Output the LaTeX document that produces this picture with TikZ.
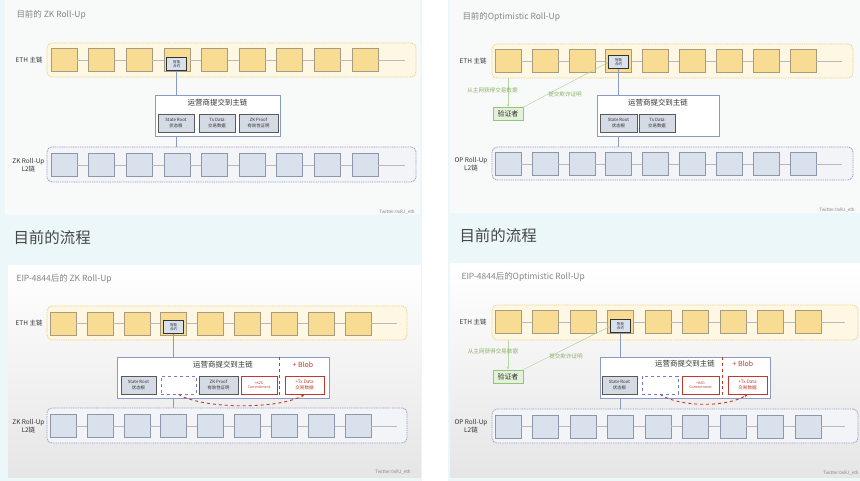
\documentclass[tikz,border=0pt]{standalone}
\usepackage{fontspec}
\setmainfont{Noto Sans CJK SC}
\usetikzlibrary{arrows.meta}

\definecolor{bgcyan}{HTML}{EBF7F9}
\definecolor{slidebg}{HTML}{F8F9F9}
\definecolor{ethfill}{HTML}{F9DC93}
\definecolor{ethline}{HTML}{A89C80}
\definecolor{rowyel}{HTML}{FDF7E4}
\definecolor{ethdash}{HTML}{EFD27C}
\definecolor{l2fill}{HTML}{D9E1ED}
\definecolor{l2line}{HTML}{8E97A8}
\definecolor{rowblu}{HTML}{F2F4F8}
\definecolor{l2dash}{HTML}{8F9CC6}
\definecolor{opline}{HTML}{8A9BC6}
\definecolor{fldfill}{HTML}{D5DBE5}
\definecolor{blobred}{HTML}{C0392B}
\definecolor{vergreen}{HTML}{E4F1D9}
\definecolor{verline}{HTML}{93C47D}
\definecolor{notegreen}{HTML}{8DB26A}
\definecolor{txtgray}{HTML}{858585}
\definecolor{txtdark}{HTML}{333333}

\begin{document}
\begin{tikzpicture}[
  x=1bp, y=-1bp,
  ethblk/.style={
    draw=ethline, fill=ethfill, minimum width=26bp, minimum height=23bp,
    inner sep=0pt, line width=0.5pt
  },
  l2blk/.style={
    draw=l2line, fill=l2fill, minimum width=26bp, minimum height=23bp,
    inner sep=0pt, line width=0.5pt
  },
  ethrow/.style={
    draw=ethdash, fill=rowyel, dash pattern=on 1pt off 0.8pt,
    rounded corners=5bp, line width=0.8pt, inner sep=0pt
  },
  l2row/.style={
    draw=l2dash, fill=rowblu, dash pattern=on 1pt off 0.8pt,
    rounded corners=5bp, line width=0.8pt, inner sep=0pt
  },
  chain/.style={draw=gray!55, line width=0.5pt},
  link/.style={draw=opline, line width=0.9pt},
  contract/.style={
    draw=txtdark, fill=l2fill, line width=0.8pt, inner sep=0.5pt,
    minimum width=20bp, minimum height=13bp, align=center,
    font=\fontsize{3.6}{4}\selectfont, text=txtdark
  },
  opbox/.style={draw=opline, fill=white, line width=0.8pt, inner sep=0pt},
  optitle/.style={font=\fontsize{7.5}{8}\selectfont, text=txtdark},
  fld/.style={
    draw=gray!70!black, fill=fldfill, line width=0.6pt, inner sep=0pt,
    minimum height=18bp, align=center, font=\fontsize{4.4}{5.4}\selectfont,
    text=txtdark
  },
  redfld/.style={
    draw=blobred, fill=white, line width=0.8pt, inner sep=0pt,
    minimum height=18bp, align=center, text=blobred
  },
  emptyfld/.style={
    draw=opline!80!blue, dashed, line width=0.8pt, inner sep=0pt,
    minimum height=18bp
  },
  blobsep/.style={draw=blobred, dashed, line width=0.8pt},
  bloblbl/.style={font=\fontsize{7}{8}\selectfont, text=blobred},
  redarc/.style={draw=blobred, dashed, line width=0.9pt,
    -{Stealth[length=3.5bp,width=3bp]}},
  verif/.style={
    draw=verline, fill=vergreen, line width=0.8pt, inner sep=0pt,
    minimum width=30bp, minimum height=13bp,
    font=\fontsize{7}{8}\selectfont, text=txtdark
  },
  glink/.style={draw=verline!70, line width=0.5pt,
    -{Stealth[length=3bp,width=2.5bp]}},
  gnote/.style={font=\fontsize{5.6}{6}\selectfont, text=notegreen},
  chainlbl/.style={anchor=east, align=center,
    font=\fontsize{6.5}{8}\selectfont, text=txtdark},
  slidettl/.style={anchor=west, font=\fontsize{8.5}{9}\selectfont, text=txtgray},
  flowttl/.style={anchor=west, font=\fontsize{15.5}{16}\selectfont, text=txtdark!90},
  twit/.style={font=\fontsize{4.5}{5}\selectfont, text=txtgray}
]
\useasboundingbox (0,0) rectangle (860,481);
\clip (0,0) rectangle (860,481);

% Backgrounds
\fill[bgcyan] (0,0) rectangle (422,481);
\fill[bgcyan] (448,0) rectangle (860,481);
\fill[slidebg] (5,0) rectangle (420,215);
\fill[slidebg] (450,0) rectangle (860,213);
\shade[top color=white, bottom color=gray!20] (8,266) rectangle (421,477);
\shade[top color=white, bottom color=gray!20] (450,264) rectangle (860,477);

\node[flowttl] (Aflow) at (10,238) {目前的流程};
\node[flowttl] (Bflow) at (456,236) {目前的流程};

% ---------- 目前的 ZK Roll-Up ----------
\node[slidettl] (Attl) at (13,15) {目前的 ZK Roll-Up};
\node[ethrow, minimum width=369bp, minimum height=34bp] (Aeth) at (231.5,60) {};
\node[l2row, minimum width=369bp, minimum height=35bp] (Al2) at (231.5,164.5) {};
\foreach \i in {1,...,9} {
  \node[ethblk] (A\i) at ({64+(\i-1)*37.6},60) {};
  \node[l2blk] (AL\i) at ({64+(\i-1)*37.6},165) {};
}
\coordinate (Aend) at (405,60);
\coordinate (ALend) at (405,165);
\foreach \i [remember=\i as \p (initially 1)] in {2,...,9} {
  \draw[chain] (A\p) -- (A\i);
  \draw[chain] (AL\p) -- (AL\i);
}
\draw[chain] (A9) -- (Aend);
\draw[chain] (AL9) -- (ALend);
\node[chainlbl] (Aethl) at (46,60) {ETH 主链};
\node[chainlbl] (Al2l) at (48,165) {ZK Roll-Up\\L2链};
\node[contract, anchor=south] (Acon) at ([yshift=0.5bp]A4.south) {智能\\合约};

\node[opbox, minimum width=125bp, minimum height=41bp] (Aop) at (217.5,115.5) {};
\node[optitle] (Aopt) at (217.5,102.5) {运营商提交到主链};
\node[fld, minimum width=36bp] (Asr) at (176,123) {State Root\\状态根};
\node[fld, minimum width=36bp] (Atx) at (217,123) {Tx Data\\交易数据};
\node[fld, minimum width=39bp] (Azk) at (258.5,123) {ZK Proof\\有效性证明};
\draw[link] (Acon.south) -- (Acon.south |- Aop.north);
\draw[link] (Acon.south |- Aop.south) -- (Acon.south |- Al2.north);
\node[twit] (Atw) at (397,212) {Twitter:0xRJ\_eth};

% ---------- 目前的Optimistic Roll-Up ----------
\node[slidettl] (Bttl) at (459,17) {目前的Optimistic Roll-Up};
\node[ethrow, minimum width=361bp, minimum height=34bp] (Beth) at (672.5,61) {};
\node[l2row, minimum width=361bp, minimum height=33bp] (Bl2) at (672.5,163.5) {};
\foreach \i in {1,...,9} {
  \node[ethblk] (B\i) at ({508+(\i-1)*36.9},61) {};
  \node[l2blk] (BL\i) at ({508+(\i-1)*36.9},164) {};
}
\coordinate (Bend) at (842,61);
\coordinate (BLend) at (842,164);
\foreach \i [remember=\i as \p (initially 1)] in {2,...,9} {
  \draw[chain] (B\p) -- (B\i);
  \draw[chain] (BL\p) -- (BL\i);
}
\draw[chain] (B9) -- (Bend);
\draw[chain] (BL9) -- (BLend);
\node[chainlbl] (Bethl) at (490,61) {ETH 主链};
\node[chainlbl] (Bl2l) at (491,164) {OP Roll-Up\\L2链};
\node[contract, anchor=south] (Bcon) at ([yshift=3.5bp]B4.south) {智能\\合约};

\node[verif] (Bver) at (508,114) {验证者};
\draw[glink] (B1 |- Beth.south) -- (Bver.north);
\draw[glink] (Bver.north east) -- (Bcon.west);
\node[gnote] (Bn1) at (492.5,90) {从主网获得交易数据};
\node[gnote] (Bn2) at (565,94) {提交欺诈证明};

\node[opbox, minimum width=122bp, minimum height=41bp] (Bop) at (658,115.5) {};
\node[optitle] (Bopt) at (658,102.5) {运营商提交到主链};
\node[fld, minimum width=37bp] (Bsr) at (618.5,123) {State Root\\状态根};
\node[fld, minimum width=36bp] (Btx) at (657,123) {Tx Data\\交易数据};
\draw[link] (Bcon.south) -- (Bcon.south |- Bop.north);
\draw[link] (Bcon.south |- Bop.south) -- (Bcon.south |- Bl2.north);
\node[twit] (Btw) at (837,210) {Twitter:0xRJ\_eth};

% ---------- EIP-4844后的 ZK Roll-Up ----------
\node[slidettl] (Cttl) at (13,279) {EIP-4844后的 ZK Roll-Up};
\node[ethrow, minimum width=360bp, minimum height=34bp] (Ceth) at (227,323) {};
\node[l2row, minimum width=360bp, minimum height=35bp] (Cl2) at (227,425.5) {};
\foreach \i in {1,...,9} {
  \node[ethblk] (C\i) at ({63+(\i-1)*36.9},323.5) {};
  \node[l2blk] (CL\i) at ({63+(\i-1)*36.9},426) {};
}
\coordinate (Cend) at (397,323.5);
\coordinate (CLend) at (397,426);
\foreach \i [remember=\i as \p (initially 1)] in {2,...,9} {
  \draw[chain] (C\p) -- (C\i);
  \draw[chain] (CL\p) -- (CL\i);
}
\draw[chain] (C9) -- (Cend);
\draw[chain] (CL9) -- (CLend);
\node[chainlbl] (Cethl) at (46,323.5) {ETH 主链};
\node[chainlbl] (Cl2l) at (48,426) {ZK Roll-Up\\L2链};
\node[contract, anchor=south] (Ccon) at ([yshift=1bp]C4.south) {智能\\合约};

\node[opbox, minimum width=212bp, minimum height=41bp] (Cop) at (223,377.5) {};
\node[optitle] (Copt) at (223,364.5) {运营商提交到主链};
\coordinate (Cbl) at (279,0);
\draw[blobsep] (Cop.north -| Cbl) -- (Cop.south -| Cbl);
\node[bloblbl] (Cblob) at (303,365) {+ Blob};
\node[fld, minimum width=35bp] (Csr) at (138.5,385) {State Root\\状态根};
\node[emptyfld, minimum width=35bp] (Cemp) at (178.5,385) {};
\node[fld, minimum width=39bp] (Czk) at (218.5,385) {ZK Proof\\有效性证明};
\node[redfld, minimum width=36bp, font=\fontsize{3.6}{4.4}\selectfont] (Ckzg) at (259,385) {+KZG\\Commitment};
\node[redfld, minimum width=39bp, font=\fontsize{4.6}{5.6}\selectfont] (Ctx) at (304.5,385) {+Tx Data\\交易数据};
\draw[redarc] (Cemp.south) .. controls +(25,15) and +(-25,15) .. (Ctx.south);
\draw[link] (Ccon.south) -- (Ccon.south |- Cop.north);
\draw[link] (Ccon.south |- Cop.south) -- (Ccon.south |- Cl2.north);
\node[twit] (Ctw) at (393,472) {Twitter:0xRJ\_eth};

% ---------- EIP-4844后的Optimistic Roll-Up ----------
\node[slidettl] (Dttl) at (458,277) {EIP-4844后的Optimistic Roll-Up};
\node[ethrow, minimum width=366bp, minimum height=35bp] (Deth) at (675,322.5) {};
\node[l2row, minimum width=366bp, minimum height=34bp] (Dl2) at (675,426) {};
\foreach \i in {1,...,9} {
  \node[ethblk] (D\i) at ({508+(\i-1)*37.5},322) {};
  \node[l2blk] (DL\i) at ({508+(\i-1)*37.5},426.5) {};
}
\coordinate (Dend) at (845,322);
\coordinate (DLend) at (845,426.5);
\foreach \i [remember=\i as \p (initially 1)] in {2,...,9} {
  \draw[chain] (D\p) -- (D\i);
  \draw[chain] (DL\p) -- (DL\i);
}
\draw[chain] (D9) -- (Dend);
\draw[chain] (DL9) -- (DLend);
\node[chainlbl] (Dethl) at (490,322) {ETH 主链};
\node[chainlbl] (Dl2l) at (491,426.5) {OP Roll-Up\\L2链};
\node[contract, anchor=south] (Dcon) at ([yshift=0.5bp]D4.south) {智能\\合约};

\node[verif] (Dver) at (508,376.5) {验证者};
\draw[glink] (D1 |- Deth.south) -- (Dver.north);
\draw[glink] (Dver.north east) -- (Dcon.west);
\node[gnote] (Dn1) at (493,351) {从主网获得交易数据};
\node[gnote] (Dn2) at (566,356) {提交欺诈证明};

\node[opbox, minimum width=170bp, minimum height=41bp] (Dop) at (685,377.5) {};
\node[optitle] (Dopt) at (685,364) {运营商提交到主链};
\coordinate (Dbl) at (722,0);
\draw[blobsep] (Dop.north -| Dbl) -- (Dop.south -| Dbl);
\node[bloblbl] (Dblob) at (743,364) {+ Blob};
\node[fld, minimum width=35bp] (Dsr) at (619.5,385) {State Root\\状态根};
\node[emptyfld, minimum width=36bp] (Demp) at (660,385) {};
\node[redfld, minimum width=37bp, font=\fontsize{3.6}{4.4}\selectfont] (Dkzg) at (700.5,385) {+KZG\\Commitment};
\node[redfld, minimum width=39bp, font=\fontsize{4.6}{5.6}\selectfont] (Dtx) at (747.5,385) {+Tx Data\\交易数据};
\draw[redarc] (Demp.south) .. controls +(20,13) and +(-20,13) .. (Dtx.south);
\draw[link] (Dcon.south) -- (Dcon.south |- Dop.north);
\draw[link] (Dcon.south |- Dop.south) -- (Dcon.south |- Dl2.north);
\node[twit] (Dtw) at (841,473) {Twitter:0xRJ\_eth};

\end{tikzpicture}
\end{document}
